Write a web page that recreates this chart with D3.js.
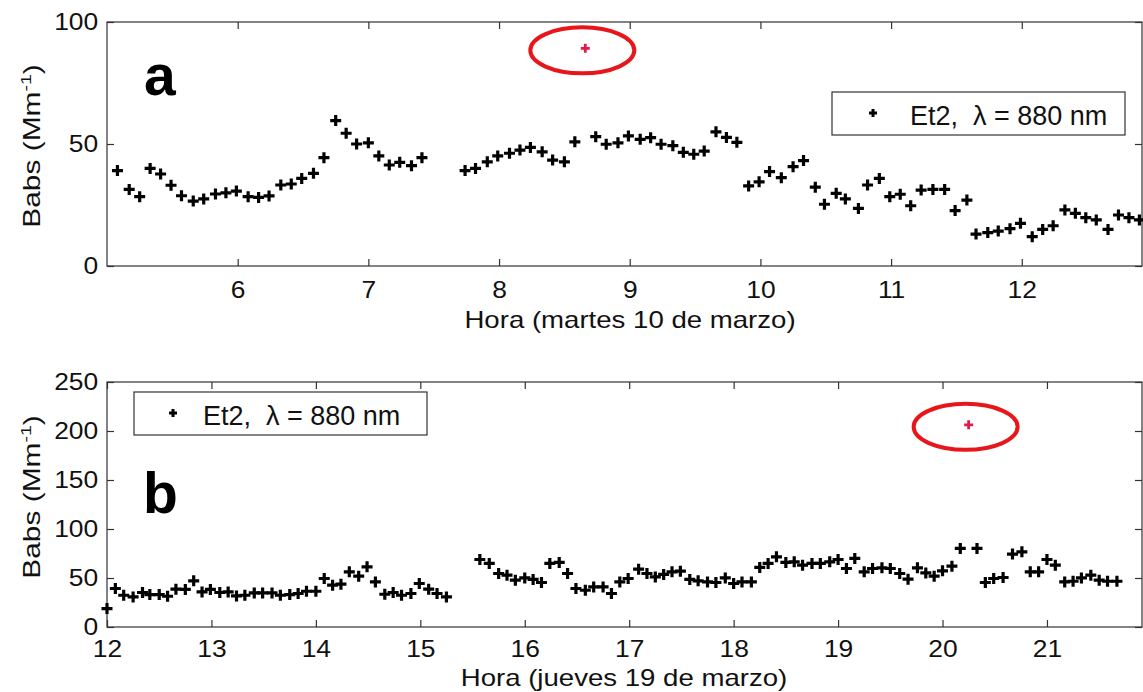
<!DOCTYPE html>
<html>
<head>
<meta charset="utf-8">
<script src="https://cdn.jsdelivr.net/npm/d3@7"></script>
<style>
  body { margin: 0; background: #fff; }
  svg { display: block; font-family: "Liberation Sans", Arial, sans-serif; }
  .axis path, .axis line { stroke: #333; stroke-width: 1.2; }
  .axis text { font-size: 24px; fill: #111; font-family: "Liberation Sans", Arial, sans-serif; }
</style>
</head>
<body>
<div id="chart"></div>
<script>
// ---- panel a: martes 10 de marzo ----
const horaA = [5.08,5.17,5.25,5.33,5.41,5.49,5.57,5.66,5.74,5.83,5.91,5.99,6.08,6.16,6.24,6.33,6.41,6.49,6.58,6.66,
  6.75,6.83,6.91,7.00,7.08,7.16,7.24,7.33,7.41,7.74,7.82,7.91,7.99,8.08,8.16,8.24,8.33,8.41,8.50,8.58,
  8.74,8.82,8.91,8.99,9.08,9.16,9.24,9.33,9.41,9.49,9.57,9.66,9.74,9.82,9.91,9.99,10.07,10.16,10.25,10.33,
  10.42,10.49,10.58,10.65,10.75,10.82,10.91,10.99,11.07,11.15,11.23,11.32,11.41,11.49,11.58,11.65,11.74,11.82,11.91,11.99,
  12.08,12.16,12.24,12.33,12.41,12.49,12.57,12.66,12.74,12.82,12.90];
const babsA = [39.1,31.4,28.4,40.0,37.7,33.1,28.8,26.6,27.5,29.5,30.0,30.7,28.4,28.1,28.7,33.2,33.6,35.9,38.0,44.4,
  59.6,54.4,50.0,50.5,45.1,41.4,42.5,41.1,44.4,39.1,40.0,42.7,45.1,46.2,47.5,48.6,46.8,43.4,42.7,50.9,
  53.0,49.9,50.5,53.3,51.9,52.6,49.9,49.3,46.6,45.8,47.1,55.0,52.7,50.7,32.8,34.5,38.7,36.2,40.7,43.2,
  32.3,25.3,29.8,27.5,23.6,33.2,35.9,28.4,29.4,24.7,31.1,31.4,31.4,22.7,27.0,13.1,13.7,14.3,15.3,17.5,
  12.0,15.0,16.5,23.0,21.6,19.8,18.9,15.0,20.9,19.8,18.9];
const outlierA = [8.66, 89.2];
const ticksXA = [6,7,8,9,10,11,12];
const ticksYA = [0,50,100];

// ---- panel b: jueves 19 de marzo ----
const horaB = [12.00,12.08,12.16,12.25,12.34,12.41,12.50,12.58,12.66,12.75,12.83,12.91,12.99,13.08,13.16,13.24,13.32,13.41,13.49,13.58,
  13.66,13.75,13.83,13.91,14.00,14.08,14.16,14.24,14.32,14.41,14.49,14.57,14.66,14.74,14.82,14.91,14.99,15.08,15.16,15.25,
  15.57,15.66,15.75,15.83,15.91,16.00,16.08,16.16,16.24,16.33,16.41,16.49,16.58,16.66,16.75,16.83,16.91,16.99,17.09,17.17,
  17.25,17.33,17.41,17.49,17.58,17.66,17.75,17.83,17.92,18.00,18.08,18.17,18.25,18.33,18.41,18.50,18.58,18.66,18.75,18.83,
  18.92,19.00,19.08,19.16,19.25,19.33,19.42,19.50,19.59,19.67,19.76,19.84,19.92,20.00,20.09,20.17,20.33,20.41,20.49,20.58,
  20.67,20.76,20.84,20.92,21.00,21.08,21.17,21.25,21.33,21.42,21.50,21.58,21.67];
const babsB = [18.8,39.3,32.4,30.7,35.2,33.1,33.1,31.4,38.6,38.3,47.1,35.8,38.3,35.2,35.8,31.7,32.4,34.8,34.8,34.8,
  32.4,33.1,34.2,36.5,36.5,49.5,42.7,43.7,56.3,51.9,61.4,46.0,33.4,35.2,32.4,34.2,44.4,38.6,34.2,30.7,
  68.9,64.9,54.6,52.9,47.8,50.1,48.5,45.4,64.9,65.9,54.6,39.3,37.5,40.9,40.9,34.2,46.0,49.5,59.0,54.6,
  51.1,53.6,56.3,57.0,48.5,47.1,46.0,45.4,50.1,44.4,46.0,46.0,60.8,64.9,71.6,65.9,66.5,63.1,64.9,64.9,
  66.5,68.9,59.7,70.0,56.3,59.7,60.4,59.7,54.6,48.8,60.4,55.2,51.9,57.3,62.1,80.2,80.2,45.4,49.5,50.5,
  74.4,76.7,56.3,56.3,68.9,63.1,46.0,46.7,50.1,52.9,47.8,46.7,46.7];
const outlierB = [20.25, 206.3];
const ticksXB = [12,13,14,15,16,17,18,19,20,21];
const ticksYB = [0,50,100,150,200,250];

const W = 1143, H = 692;
const svg = d3.select("#chart").append("svg").attr("width", W).attr("height", H);

const plus = "M-5.5,0H5.5M0,-5.5V5.5";
const SX = 1.1; // the source figure is a little wider than tall

function panel(cfg){
	const x = d3.scaleLinear().domain(cfg.xdom).range([107, 1142]);
	const y = d3.scaleLinear().domain(cfg.ydom).range([cfg.bottom, cfg.top]);
	const g = svg.append("g");

	// frame
	g.append("rect")
	 .attr("x", 107).attr("y", cfg.top)
	 .attr("width", 1142 - 107).attr("height", cfg.bottom - cfg.top)
	 .attr("fill", "none").attr("stroke", "#333").attr("stroke-width", 1.2);

	const ax = (a, tr) => g.append("g").attr("class", "axis").attr("transform", tr).call(a)
		.call(s => s.select(".domain").remove())
		.call(s => s.selectAll("text").attr("transform", `scale(${SX},1)`));

	ax(d3.axisBottom(x).tickValues(cfg.xt).tickSize(-7).tickPadding(cfg.xpad).tickFormat(d3.format("d")),
	   `translate(0,${cfg.bottom})`);
	ax(d3.axisTop(x).tickValues(cfg.xt).tickSize(-7).tickFormat(""), `translate(0,${cfg.top})`);
	ax(d3.axisLeft(y).tickValues(cfg.yt).tickSize(-7).tickPadding(8), "translate(107,0)");
	ax(d3.axisRight(y).tickValues(cfg.yt).tickSize(-7).tickFormat(""), "translate(1142,0)");

	// points
	g.selectAll(".pt").data(d3.zip(cfg.hora, cfg.babs)).enter().append("path")
	 .attr("class", "pt")
	 .attr("d", plus)
	 .attr("transform", d => `translate(${x(d[0])},${y(d[1])})`)
	 .attr("stroke", "#000").attr("stroke-width", 3.2).attr("fill", "none");

	// outlier + ring
	const ox = x(cfg.out[0]), oy = y(cfg.out[1]);
	g.append("path").attr("d", "M-4.5,0H4.5M0,-4.5V4.5")
	 .attr("transform", `translate(${ox},${oy})`)
	 .attr("stroke", "#e3194b").attr("stroke-width", 2.8);
	g.append("ellipse")
	 .attr("cx", ox - 3).attr("cy", oy + 2)
	 .attr("rx", 52).attr("ry", 23)
	 .attr("fill", "none").attr("stroke", "#e8161b").attr("stroke-width", 4);

	// legend
	const lg = g.append("g").attr("transform", `translate(${cfg.leg[0]},${cfg.leg[1]})`);
	lg.append("rect").attr("width", 293).attr("height", 43)
	  .attr("fill", "#fff").attr("stroke", "#333").attr("stroke-width", 1.2);
	lg.append("path").attr("d", "M-4,0H4M0,-4V4").attr("transform", `translate(${cfg.leg[2]},21)`)
	  .attr("stroke", "#000").attr("stroke-width", 3);
	lg.append("text").attr("x", cfg.leg[3]).attr("y", 33)
	  .attr("font-size", 27).attr("fill", "#111")
	  .attr("xml:space", "preserve")
	  .text("Et2,  \u03bb = 880 nm");

	// panel letter
	g.append("text").attr("x", cfg.letter[0]).attr("y", cfg.letter[1])
	 .attr("font-size", 57).attr("font-weight", "bold").attr("fill", "#000")
	 .text(cfg.name);

	// axis titles
	g.append("text")
	 .attr("transform", `translate(${cfg.xlabX},${cfg.xlabY}) scale(1.2,1)`)
	 .attr("text-anchor", "middle").attr("font-size", 23).attr("fill", "#111")
	 .text(cfg.xlab);
	const yl = g.append("text")
	 .attr("transform", `translate(40,${cfg.ylabY}) rotate(-90) scale(1.3,1)`)
	 .attr("text-anchor", "middle").attr("font-size", 23).attr("fill", "#111");
	yl.append("tspan").text("Babs (Mm");
	yl.append("tspan").attr("font-size", 15).attr("dy", -9).text("-1");
	yl.append("tspan").attr("dy", 9).text(")");
}

panel({
	name: "a", xdom: [5, 12.92], ydom: [0, 100], top: 22, bottom: 266,
	xt: ticksXA, yt: ticksYA, hora: horaA, babs: babsA, out: outlierA,
	xpad: 15, leg: [832, 92, 41, 78], letter: [144, 95],
	xlab: "Hora (martes 10 de marzo)", xlabX: 630, xlabY: 328, ylabY: 146
});

panel({
	name: "b", xdom: [12, 21.91], ydom: [0, 250], top: 382, bottom: 627,
	xt: ticksXB, yt: ticksYB, hora: horaB, babs: babsB, out: outlierB,
	xpad: 13, leg: [134, 392, 39, 69], letter: [143, 513],
	xlab: "Hora (jueves 19 de marzo)", xlabX: 624, xlabY: 686, ylabY: 497
});
</script>
</body>
</html>
